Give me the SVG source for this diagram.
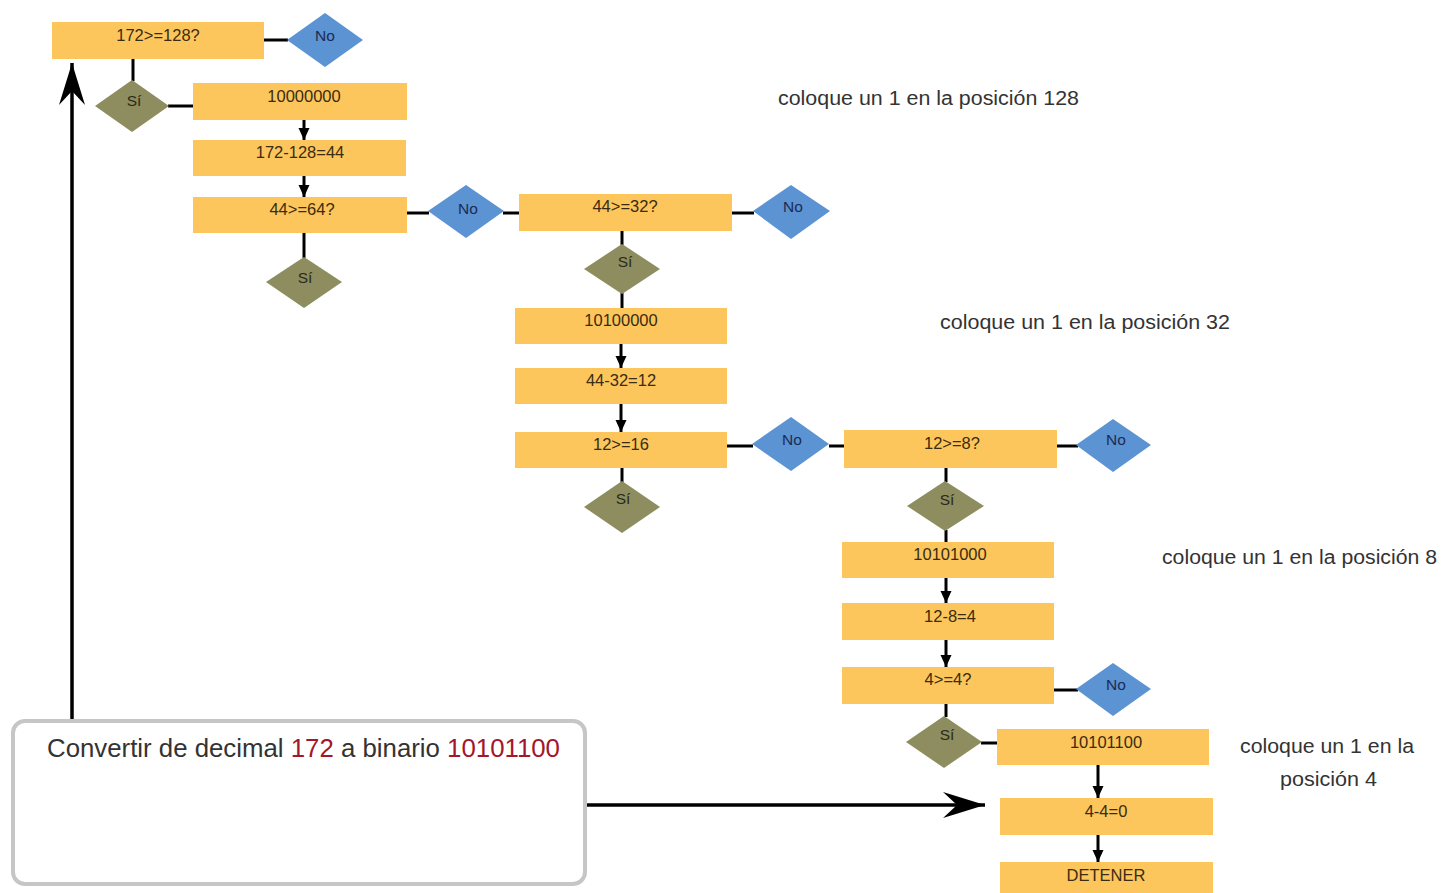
<svg xmlns="http://www.w3.org/2000/svg" width="1441" height="893" viewBox="0 0 1441 893">
<style>
.box{fill:#FCC65C}
.bt{font-family:"Liberation Sans",Arial,sans-serif;font-size:16.5px;fill:#3a2c10;text-anchor:middle}
.no{fill:#5B93D3}
.si{fill:#8E8D5F}
.dt{font-family:"Liberation Sans",Arial,sans-serif;font-size:15.5px;text-anchor:middle}
.dtn{fill:#1b2b52}
.dts{fill:#2a2a18}
.ln{stroke:#000;stroke-width:3;fill:none}
.ar{stroke:#000;stroke-width:3;fill:none;marker-end:url(#sm)}
.big{stroke:#000;stroke-width:3.5;fill:none;marker-end:url(#bg)}
.lbl{font-family:"Liberation Sans",Arial,sans-serif;font-size:20px;fill:#333}
.ttl{font-family:"Liberation Sans",Arial,sans-serif;font-size:25.8px;fill:#333}
.red{fill:#A3172B}
</style>
<defs>
<marker id="sm" markerUnits="userSpaceOnUse" markerWidth="14" markerHeight="14" viewBox="-12 -7 14 14" refX="0" refY="0" orient="auto">
<path d="M0,0 L-12,-5.5 L-12,5.5 Z" fill="#000"/>
</marker>
<marker id="bg" markerUnits="userSpaceOnUse" markerWidth="46" markerHeight="32" viewBox="-44 -15 46 30" refX="0" refY="0" orient="auto">
<path d="M0,0 L-42,-13 L-28,0 L-42,13 Z" fill="#000"/>
</marker>
</defs>

<g id="connectors">
<line class="ln" x1="264" y1="40" x2="288" y2="40"/>
<line class="ln" x1="133" y1="59" x2="133" y2="81"/>
<line class="ln" x1="168" y1="106" x2="193" y2="106"/>
<line class="ar" x1="304" y1="120" x2="304" y2="140"/>
<line class="ar" x1="304" y1="176" x2="304" y2="197"/>
<line class="ln" x1="304" y1="233" x2="304" y2="258"/>
<line class="ln" x1="407" y1="213" x2="429" y2="213"/>
<line class="ln" x1="503" y1="213" x2="519" y2="213"/>
<line class="ln" x1="732" y1="213" x2="754" y2="213"/>
<line class="ln" x1="622" y1="231" x2="622" y2="245"/>
<line class="ln" x1="622" y1="293" x2="622" y2="308"/>
<line class="ar" x1="621" y1="344" x2="621" y2="368"/>
<line class="ar" x1="621" y1="404" x2="621" y2="432"/>
<line class="ln" x1="622" y1="468" x2="622" y2="483"/>
<line class="ln" x1="727" y1="446" x2="753" y2="446"/>
<line class="ln" x1="829" y1="446" x2="844" y2="446"/>
<line class="ln" x1="1057" y1="446" x2="1078" y2="446"/>
<line class="ln" x1="946" y1="468" x2="946" y2="482"/>
<line class="ln" x1="946" y1="530" x2="946" y2="542"/>
<line class="ar" x1="946" y1="578" x2="946" y2="603"/>
<line class="ar" x1="946" y1="640" x2="946" y2="667"/>
<line class="ln" x1="1054" y1="690" x2="1078" y2="690"/>
<line class="ln" x1="946" y1="704" x2="946" y2="717"/>
<line class="ln" x1="981" y1="743" x2="997" y2="743"/>
<line class="ar" x1="1098" y1="765" x2="1098" y2="798"/>
<line class="ar" x1="1098" y1="835" x2="1098" y2="862"/>
<line class="big" x1="72" y1="721" x2="72" y2="63"/>
<line class="big" x1="583" y1="805" x2="985" y2="805"/>
</g>

<g id="n-b1"><rect class="box" x="52" y="22" width="212" height="37"/><text class="bt" x="158" y="41">172&gt;=128?</text></g>
<g id="n-no1"><polygon class="no" points="325,13 363,40 325,67 287,40"/><text class="dt dtn" x="325" y="41">No</text></g>
<g id="n-si1"><polygon class="si" points="132,80 169,106 132,132 95,106"/><text class="dt dts" x="134" y="106">Sí</text></g>
<g id="n-b2"><rect class="box" x="193" y="83" width="214" height="37"/><text class="bt" x="304" y="102">10000000</text></g>
<g id="n-b3"><rect class="box" x="193" y="140" width="213" height="36"/><text class="bt" x="300" y="158">172-128=44</text></g>
<g id="n-b4"><rect class="box" x="193" y="197" width="214" height="36"/><text class="bt" x="302" y="215">44&gt;=64?</text></g>
<g id="n-si2"><polygon class="si" points="304,257 342,282 304,308 266,282"/><text class="dt dts" x="305" y="283">Sí</text></g>
<g id="n-no2"><polygon class="no" points="466,185 504,211 466,238 428,211"/><text class="dt dtn" x="468" y="214">No</text></g>
<g id="n-b5"><rect class="box" x="519" y="194" width="213" height="37"/><text class="bt" x="625" y="212">44&gt;=32?</text></g>
<g id="n-no3"><polygon class="no" points="791,185 830,211 791,239 753,211"/><text class="dt dtn" x="793" y="212">No</text></g>
<g id="n-si3"><polygon class="si" points="622,244 660,269 622,294 584,269"/><text class="dt dts" x="625" y="267">Sí</text></g>
<g id="n-b6"><rect class="box" x="515" y="308" width="212" height="36"/><text class="bt" x="621" y="326">10100000</text></g>
<g id="n-b7"><rect class="box" x="515" y="368" width="212" height="36"/><text class="bt" x="621" y="386">44-32=12</text></g>
<g id="n-b8"><rect class="box" x="515" y="432" width="212" height="36"/><text class="bt" x="621" y="450">12&gt;=16</text></g>
<g id="n-si4"><polygon class="si" points="622,481 660,507 622,533 584,507"/><text class="dt dts" x="623" y="504">Sí</text></g>
<g id="n-no4"><polygon class="no" points="791,417 829,444 791,471 752,444"/><text class="dt dtn" x="792" y="445">No</text></g>
<g id="n-b9"><rect class="box" x="844" y="430" width="213" height="38"/><text class="bt" x="952" y="449">12&gt;=8?</text></g>
<g id="n-no5"><polygon class="no" points="1113,419 1151,445 1113,472 1076,445"/><text class="dt dtn" x="1116" y="445">No</text></g>
<g id="n-si5"><polygon class="si" points="945,481 984,506 945,531 907,506"/><text class="dt dts" x="947" y="505">Sí</text></g>
<g id="n-b10"><rect class="box" x="842" y="542" width="212" height="36"/><text class="bt" x="950" y="560">10101000</text></g>
<g id="n-b11"><rect class="box" x="842" y="603" width="212" height="37"/><text class="bt" x="950" y="622">12-8=4</text></g>
<g id="n-b12"><rect class="box" x="842" y="667" width="212" height="37"/><text class="bt" x="948" y="685">4&gt;=4?</text></g>
<g id="n-no6"><polygon class="no" points="1113,663 1151,689 1113,716 1076,689"/><text class="dt dtn" x="1116" y="690">No</text></g>
<g id="n-si6"><polygon class="si" points="944,716 982,742 944,768 906,742"/><text class="dt dts" x="947" y="740">Sí</text></g>
<g id="n-b13"><rect class="box" x="997" y="729" width="212" height="36"/><text class="bt" x="1106" y="748">10101100</text></g>
<g id="n-b14"><rect class="box" x="1000" y="798" width="213" height="37"/><text class="bt" x="1106" y="817">4-4=0</text></g>
<g id="n-b15"><rect class="box" x="1000" y="862" width="213" height="40"/><text class="bt" x="1106" y="881">DETENER</text></g>

<g id="n-start">
<rect x="13" y="721" width="572" height="163" rx="12" ry="12" fill="#fff" stroke="#c6c6c6" stroke-width="4"/>
<text class="ttl" x="47" y="757">Convertir de decimal <tspan class="red">172</tspan> a binario <tspan class="red">10101100</tspan></text>
</g>

<g id="labels">
<text class="lbl" x="778" y="105" textLength="301" lengthAdjust="spacingAndGlyphs">coloque un 1 en la posición 128</text>
<text class="lbl" x="940" y="329" textLength="290" lengthAdjust="spacingAndGlyphs">coloque un 1 en la posición 32</text>
<text class="lbl" x="1162" y="564" textLength="275" lengthAdjust="spacingAndGlyphs">coloque un 1 en la posición 8</text>
<text class="lbl" x="1240" y="753" textLength="174" lengthAdjust="spacingAndGlyphs">coloque un 1 en la</text>
<text class="lbl" x="1280" y="786" textLength="97" lengthAdjust="spacingAndGlyphs">posición 4</text>
</g>
</svg>
